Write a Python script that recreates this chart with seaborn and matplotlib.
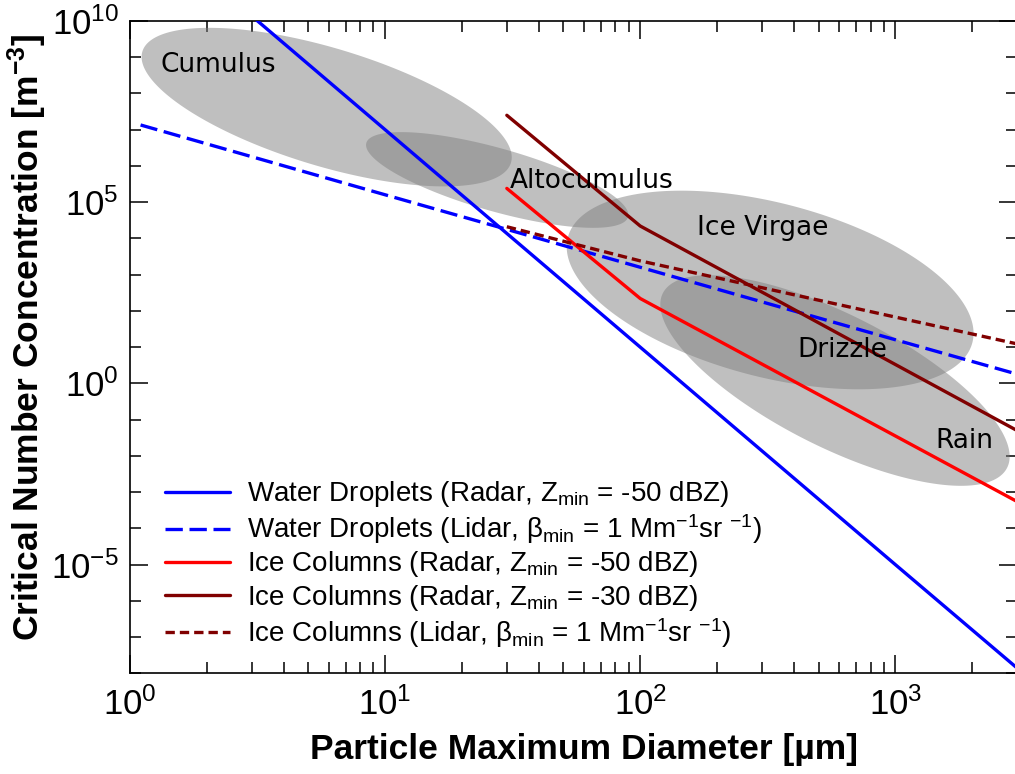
import numpy as np
import matplotlib
matplotlib.use("Agg")
import matplotlib.pyplot as plt
import seaborn as sns
from matplotlib import ticker

# ---------------- data ----------------
D_water_radar = [1, 10, 100, 1000, 3000]            # µm
N_water_radar = [1e13, 1e7, 1e1, 1e-5, 1.4e-8]       # m^-3
D_water_lidar = [1.1, 10, 100, 1000, 3000]
N_water_lidar = [1.35e7, 1.6e5, 1.6e3, 16, 1.8]
D_ice = [30, 100, 3000]
N_ice_radar50 = [2.4e5, 2.2e2, 5.5e-4]
N_ice_radar30 = [2.5e7, 2.2e4, 5.0e-2]
N_ice_lidar = [2.1e4, 2.4e3, 12.3]

series_labels = [
    "Water Droplets (Radar, Z$_\\mathregular{min}$ = -50 dBZ)",
    "Water Droplets (Lidar, \u03b2$_\\mathregular{min}$ = 1 Mm$^\\mathregular{-1}$sr $^\\mathregular{-1}$)",
    "Ice Columns (Radar, Z$_\\mathregular{min}$ = -50 dBZ)",
    "Ice Columns (Radar, Z$_\\mathregular{min}$ = -30 dBZ)",
    "Ice Columns (Lidar, \u03b2$_\\mathregular{min}$ = 1 Mm$^\\mathregular{-1}$sr $^\\mathregular{-1}$)",
]

# cloud-type regions: ellipse centres (data), size in px, angle in deg
ell_names = ["Cumulus", "Altocumulus", "Ice Virgae", "Drizzle/Rain"]
ell_D = [5.9, 27.5, 323, 580]
ell_N = [4.2e7, 4.1e5, 3.78e2, 1.2]
ell_w = [385, 272, 418, 386]
ell_h = [118, 63, 174, 132]
ell_ang = [-16.8, -15.8, -14.6, -26.9]

region_labels = ["Cumulus", "Altocumulus", "Ice Virgae", "Drizzle", "Rain"]
region_D = [2.22, 64.8, 303, 618, 1866]
region_N = [4.0e8, 2.47e5, 1.24e4, 5.46, 0.0162]

# ---------------- style ----------------
sns.set_theme(style="ticks")
plt.rcParams["font.family"] = ["Liberation Sans", "DejaVu Sans"]
plt.rcParams["mathtext.fontset"] = "custom"
plt.rcParams["mathtext.rm"] = "Liberation Sans"
plt.rcParams["mathtext.it"] = "Liberation Sans:italic"
plt.rcParams["mathtext.bf"] = "Liberation Sans:bold"
plt.rcParams["text.color"] = "black"
plt.rcParams["axes.labelcolor"] = "black"
plt.rcParams["xtick.color"] = "black"
plt.rcParams["ytick.color"] = "black"

fig = plt.figure(figsize=(10.15, 7.74), dpi=100)
ax = fig.add_axes([0.1281, 0.1301, 0.8739, 0.8428])
ax.set_xscale("log")
ax.set_yscale("log")
ax.set_xlim(1, 3000)
ax.set_ylim(1e-8, 1e10)

lw = 2.4
sns.lineplot(x=D_water_radar, y=N_water_radar, ax=ax, color="#0000ff", lw=lw,
             label=series_labels[0], estimator=None, sort=False, zorder=3)
sns.lineplot(x=D_water_lidar, y=N_water_lidar, ax=ax, color="#0000ff", lw=lw,
             linestyle=(0, (5.2, 2.0)), label=series_labels[1], estimator=None,
             sort=False, zorder=3)
sns.lineplot(x=D_ice, y=N_ice_radar50, ax=ax, color="#ff0000", lw=lw,
             label=series_labels[2], estimator=None, sort=False, zorder=3)
sns.lineplot(x=D_ice, y=N_ice_radar30, ax=ax, color="#800000", lw=lw,
             label=series_labels[3], estimator=None, sort=False, zorder=3)
sns.lineplot(x=D_ice, y=N_ice_lidar, ax=ax, color="#800000", lw=lw,
             linestyle=(0, (2.8, 1.5)), label=series_labels[4], estimator=None,
             sort=False, zorder=3)

ax.set_xlim(1, 3000)
ax.set_ylim(1e-8, 1e10)

# ellipses drawn in display space, converted back to data space
t = np.linspace(0, 2 * np.pi, 300)
for xc, yc, w, h, ang in zip(ell_D, ell_N, ell_w, ell_h, ell_ang):
    cx, cy = ax.transData.transform((xc, yc))
    th = np.deg2rad(ang)
    a, b = w / 2, h / 2
    px = cx + a * np.cos(t) * np.cos(th) - b * np.sin(t) * np.sin(th)
    py = cy + a * np.cos(t) * np.sin(th) + b * np.sin(t) * np.cos(th)
    pts = ax.transData.inverted().transform(np.column_stack([px, py]))
    ax.fill(pts[:, 0], pts[:, 1], color="gray", alpha=0.5, lw=0, zorder=1)

for name, xd, yd in zip(region_labels, region_D, region_N):
    ax.text(xd, yd, name, ha="center", va="baseline", fontsize=19,
            family="DejaVu Sans", color="black", zorder=4)

# ticks
ax.yaxis.set_major_locator(ticker.LogLocator(base=1e5, numticks=10))
ax.yaxis.set_minor_locator(ticker.LogLocator(base=10, subs=(1.0,), numticks=40))
ax.yaxis.set_major_formatter(ticker.LogFormatterSciNotation(base=10))
ax.yaxis.set_minor_formatter(ticker.NullFormatter())
ax.xaxis.set_minor_formatter(ticker.NullFormatter())
ax.tick_params(which="both", direction="in", top=True, right=True,
               width=1.1, color="black", labelcolor="black")
ax.tick_params(which="major", length=13, labelsize=25)
ax.tick_params(which="minor", length=8)
ax.tick_params(axis="x", which="major", pad=10)
ax.tick_params(axis="y", which="major", pad=8)
for s in ax.spines.values():
    s.set_linewidth(1.2)
    s.set_color("black")
    s.set_visible(True)

ax.set_xlabel("Particle Maximum Diameter [\u00b5m]", fontsize=25.5, fontweight="bold")
ax.set_ylabel("Critical Number Concentration [m$^{\\mathbf{-3}}$]", fontsize=25.5,
              fontweight="bold")
ax.xaxis.set_label_coords(0.512, -0.092)
ax.yaxis.set_label_coords(-0.0913, 0.5156)

ax.legend(loc="upper left", bbox_to_anchor=(0.0395, 0.2975), frameon=False,
          fontsize=20, handlelength=2.34, handletextpad=0.6, labelspacing=0.115,
          borderpad=0, borderaxespad=0)

fig.savefig("out.png", dpi=100)
